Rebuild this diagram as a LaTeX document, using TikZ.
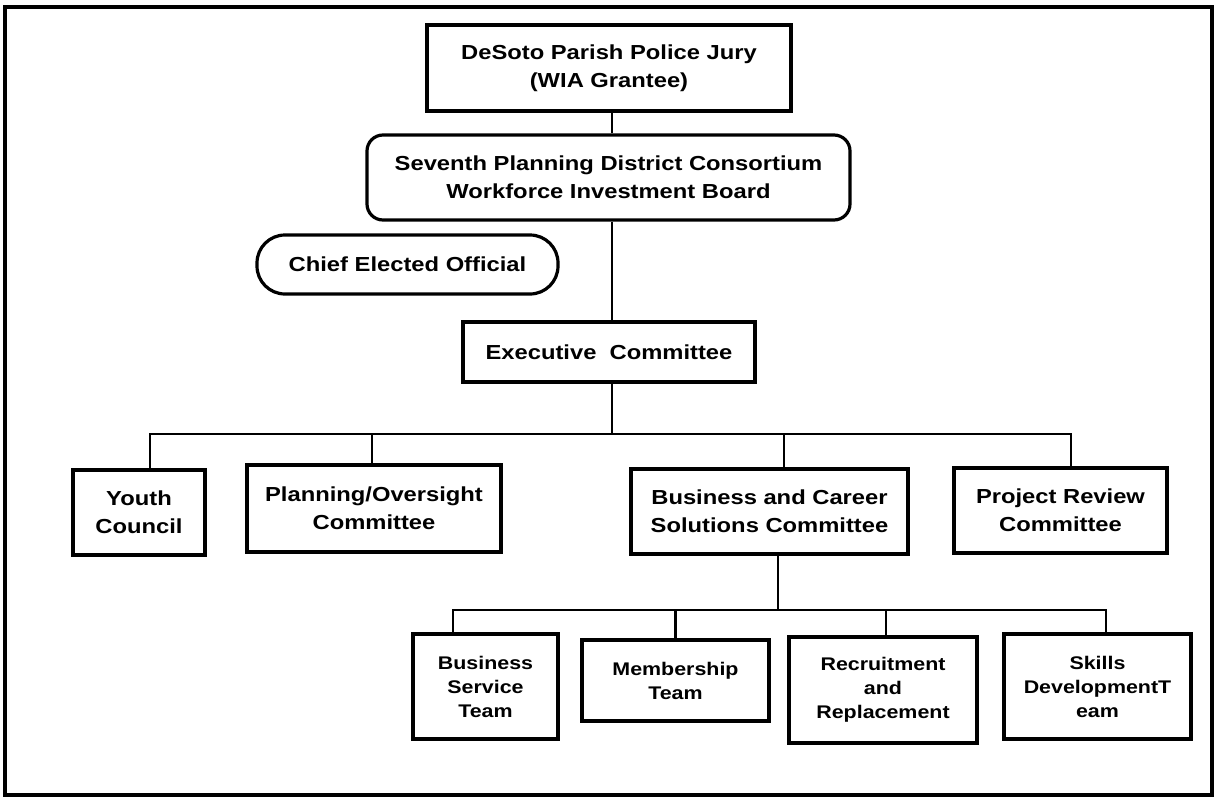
\documentclass[tikz,border=0pt]{standalone}
\usepackage{fontspec}
\setmainfont{Liberation Sans}[FakeStretch=1.17]

\begin{document}
\begin{tikzpicture}[x=1pt,y=-1pt,line width=2.9pt,
    box/.style={draw,line width=3.2pt,align=center,inner sep=0pt,font=\bfseries\fontsize{20.3}{28}\selectfont},
    rbox/.style={box,rounded corners=16pt},
    team/.style={box,font=\bfseries\fontsize{18.3}{24}\selectfont}]
    \useasboundingbox (0,0) rectangle (1214,797);
    \draw[line width=3.4pt] (5,7) rectangle (1212,795);
    % top of the chart
    \node[box,minimum width=364pt,minimum height=86pt] (desoto) at (609,68) {DeSoto Parish Police Jury\\(WIA Grantee)};
    \node[rbox,minimum width=483pt,minimum height=85pt] (board) at (608.5,177.5) {Seventh Planning District Consortium\\Workforce Investment Board};
    \node[box,rounded corners=28pt,minimum width=301pt,minimum height=59pt] (chief) at (407.5,264.5) {Chief Elected Official};
    \node[box,minimum width=292pt,minimum height=60pt] (exec) at (609,352) {Executive\ \ Committee};
    % committees
    \node[box,minimum width=132pt,minimum height=85pt] (youth) at (139,512.5) {Youth\\Council};
    \node[box,minimum width=254pt,minimum height=87pt] (planning) at (374,508.5) {Planning/Oversight\\Committee};
    \node[box,minimum width=277pt,minimum height=85pt] (bcsc) at (769.5,511.5) {Business and Career\\Solutions Committee};
    \node[box,minimum width=213pt,minimum height=85pt] (project) at (1060.5,510.5) {Project Review\\Committee};
    % teams
    \node[team,minimum width=145pt,minimum height=105pt] (bst) at (485.5,686.5) {Business\\Service\\Team};
    \node[team,minimum width=187pt,minimum height=81pt] (member) at (675.5,680.5) {Membership\\Team};
    \node[team,minimum width=188pt,minimum height=106pt] (recruit) at (883,690) {Recruitment\\and\\Replacement};
    \node[team,minimum width=187pt,minimum height=105pt] (skills) at (1097.5,686.5) {Skills\\DevelopmentT\\eam};
    % connectors
    \coordinate (spine) at (612,0);
    \coordinate (bar1) at (612,434);
    \coordinate (bar2) at (778,610);
    \draw (desoto.south -| spine) -- (board.north -| spine);
    \draw (board.south -| spine) -- (exec.north -| spine);
    \draw (exec.south -| spine) -- (bar1);
    \draw ([xshift=11pt]youth.north) |- (bar1) -| ([xshift=10.5pt]project.north);
    \draw ([xshift=-2pt]planning.north) -- ([xshift=-2pt]planning.north |- bar1);
    \draw ([xshift=14.5pt]bcsc.north) -- ([xshift=14.5pt]bcsc.north |- bar1);
    \draw (bcsc.south -| bar2) -- (bar2);
    \draw ([xshift=-32.5pt]bst.north) |- (bar2) -| ([xshift=8.5pt]skills.north);
    \draw (member.north) -- (member.north |- bar2);
    \draw ([xshift=3pt]recruit.north) -- ([xshift=3pt]recruit.north |- bar2);
\end{tikzpicture}
\end{document}
